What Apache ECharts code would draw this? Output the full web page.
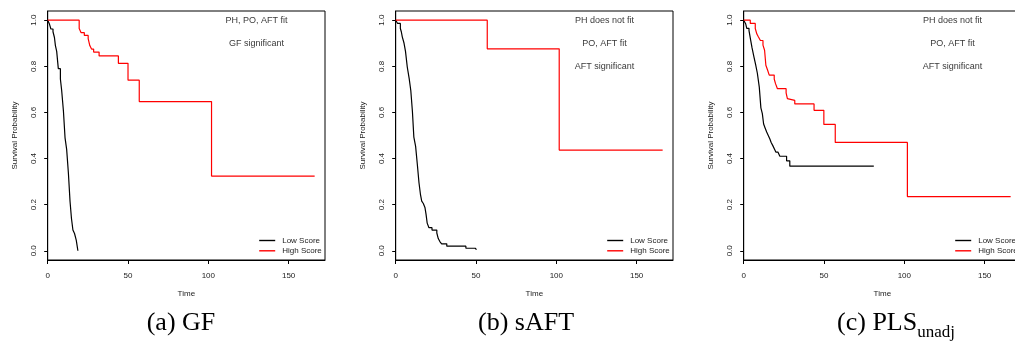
<!DOCTYPE html>
<html><head><meta charset="utf-8">
<script src="https://cdn.jsdelivr.net/npm/echarts@6/dist/echarts.min.js"></script>
<style>html,body{margin:0;padding:0;background:#fff;overflow:hidden}#c{width:1015px;height:357px}</style>
</head><body><div id="c"></div><script>
// ---- data ----
const xTicks = [0, 50, 100, 150];
const yTicks = [0, 0.2, 0.4, 0.6, 0.8, 1.0];
const seriesNames = ['Low Score', 'High Score'];

// (a) GF
const timeLowA = [0, 1.0, 2.0, 3.3, 4.2, 4.8, 5.6, 6.6, 7.9, 8.7, 9.8, 10.8, 11.8, 12.9, 13.9, 14.8, 15.7, 16.7, 17.8, 18.8];
const survLowA = [1, 0.985, 0.962, 0.95, 0.925, 0.89, 0.865, 0.79, 0.745, 0.695, 0.605, 0.49, 0.44, 0.335, 0.215, 0.14, 0.09, 0.075, 0.045, 0];
const timeHighA = [0, 19.6, 20.8, 22.8, 25.2, 26.2, 27.3, 28.6, 32.0, 44.0, 50.0, 57.0, 102.0, 166.2];
const survHighA = [1, 0.964, 0.946, 0.934, 0.92, 0.89, 0.875, 0.862, 0.845, 0.813, 0.74, 0.647, 0.324, 0.324];

// (b) sAFT
const timeLowB = [0, 1.2, 2.9, 3.5, 4.1, 5.2, 6.1, 7.2, 8.4, 9.4, 10.4, 11.3, 12.4, 13.5, 14.5, 15.4, 16.2, 17.2, 18.2, 18.9, 19.6, 20.7, 22.6, 25.6, 26.5, 27.5, 28.6, 31.8, 43.7, 49.5, 50.3];
const survLowB = [1, 0.986, 0.964, 0.95, 0.928, 0.9, 0.865, 0.797, 0.747, 0.695, 0.605, 0.493, 0.453, 0.372, 0.295, 0.245, 0.215, 0.205, 0.188, 0.158, 0.12, 0.1, 0.09, 0.077, 0.053, 0.04, 0.03, 0.02, 0.011, 0.005, 0.005];
const timeHighB = [0, 57.0, 101.8, 166.2];
const survHighB = [1, 0.876, 0.437, 0.437];

// (c) PLS unadj
const timeLowC = [0, 1.2, 1.9, 3.3, 4.3, 5.2, 6.4, 7.4, 8.5, 9.7, 10.7, 11.6, 12.4, 13.2, 14.3, 15.3, 16.3, 17.1, 18.2, 19.2, 20.0, 21.3, 22.5, 26.7, 28.7, 81.0];
const survLowC = [1, 0.985, 0.965, 0.955, 0.915, 0.88, 0.84, 0.808, 0.77, 0.71, 0.62, 0.595, 0.55, 0.535, 0.515, 0.5, 0.485, 0.47, 0.455, 0.44, 0.428, 0.42, 0.41, 0.39, 0.367, 0.367];
const timeHighC = [0, 4.1, 7.2, 8.2, 9.2, 10.4, 12.0, 13.0, 13.8, 14.8, 15.9, 19.0, 19.8, 21.0, 26.4, 27.2, 28.3, 31.8, 43.8, 49.9, 57.0, 101.9, 166.2];
const survHighC = [1, 0.986, 0.964, 0.94, 0.927, 0.912, 0.892, 0.87, 0.805, 0.785, 0.762, 0.745, 0.725, 0.703, 0.685, 0.66, 0.652, 0.637, 0.609, 0.548, 0.47, 0.235, 0.235];

// annotation texts (R text() at x=130, y = 1.0 / 0.9 / 0.8)
const annotA = ['PH, PO, AFT fit', 'GF significant'];
const annotB = ['PH does not fit', 'PO, AFT fit', 'AFT significant'];
const annotC = ['PH does not fit', 'PO, AFT fit', 'AFT significant'];
const annotX = 130;
const annotY = [1.0, 0.9, 0.8];
const captions = ['(a) GF', '(b) sAFT', '(c) PLS'];
const captionSub = ['', '', 'unadj'];

// ---- chart ----
const FONT = '"Liberation Sans", Arial, sans-serif';
const SERIF = '"Liberation Serif", "DejaVu Serif", serif';
const tMax = 166.0;
const xMax = tMax * 1.04;
const panels = [
  {low: [timeLowA, survLowA], high: [timeHighA, survHighA], ann: annotA},
  {low: [timeLowB, survLowB], high: [timeHighB, survHighB], ann: annotB},
  {low: [timeLowC, survLowC], high: [timeHighC, survHighC], ann: annotC}
];
const lefts = [47.7, 395.7, 743.7];
const captionCenters = [181, 526, 896];
const W = 277.3, TOP = 11, H = 249;
const zip = (a, b) => a.map((v, i) => [v, b[i]]);

const grid = [], xAxis = [], yAxis = [], series = [], legend = [], graphic = [];
panels.forEach((p, i) => {
  grid.push({left: lefts[i], top: TOP, width: W, height: H, show: true, borderColor: '#000', borderWidth: 1,
    backgroundColor: 'transparent', outerBoundsMode: 'none', containLabel: false});
  xAxis.push({
    gridIndex: i, type: 'value', min: 0, max: xMax,
    name: 'Time', nameLocation: 'middle', nameGap: 30,
    nameTextStyle: {fontSize: 8, color: '#222', fontFamily: FONT},
    axisLine: {show: true, onZero: false, lineStyle: {color: '#000', width: 1}},
    axisTick: {show: true, inside: false, length: 4, customValues: xTicks, lineStyle: {color: '#000'}},
    axisLabel: {customValues: xTicks, fontSize: 8, margin: 12, color: '#222', fontFamily: FONT},
    splitLine: {show: false}
  });
  yAxis.push({
    gridIndex: i, type: 'value', min: -0.04, max: 1.04,
    name: 'Survival Probability', nameLocation: 'middle', nameGap: 29, nameRotate: 90,
    nameTextStyle: {fontSize: 8, color: '#222', fontFamily: FONT},
    axisLine: {show: true, onZero: false, lineStyle: {color: '#000', width: 1}},
    axisTick: {show: true, inside: false, length: 3.5, customValues: yTicks, lineStyle: {color: '#000'}},
    axisLabel: {customValues: yTicks, fontSize: 8, margin: 10, rotate: 90, color: '#222', fontFamily: FONT,
      formatter: v => Number(v).toFixed(1)},
    splitLine: {show: false}
  });
  series.push({
    type: 'line', name: seriesNames[0], xAxisIndex: i, yAxisIndex: i,
    data: zip(p.low[0], p.low[1]), step: 'end', symbol: 'none',
    lineStyle: {color: '#000', width: 1.2}, itemStyle: {color: '#000'}, silent: true
  });
  series.push({
    type: 'line', name: seriesNames[1], xAxisIndex: i, yAxisIndex: i,
    data: zip(p.high[0], p.high[1]), step: 'end', symbol: 'none',
    lineStyle: {color: '#ff0000', width: 1.2}, itemStyle: {color: '#ff0000'}, silent: true
  });
  series.push({
    type: 'scatter', name: 'annot' + i, xAxisIndex: i, yAxisIndex: i,
    data: p.ann.map((t, k) => [annotX, annotY[k], t]), symbolSize: 0, silent: true,
    label: {show: true, position: 'inside', formatter: q => q.data[2], fontSize: 9, color: '#000', fontFamily: FONT}
  });
  legend.push({
    left: lefts[i] + 211.5, top: 236, orient: 'vertical', data: seriesNames, padding: 0,
    icon: 'rect', itemWidth: 16, itemHeight: 1.4, itemGap: 1.3, selectedMode: false,
    textStyle: {fontSize: 8, lineHeight: 9, color: '#222', fontFamily: FONT, padding: [0, 0, 0, 2]}
  });
  graphic.push({
    type: 'text', x: captionCenters[i], y: 323,
    style: {
      text: captionSub[i] ? '{m|' + captions[i] + '}{s|' + captionSub[i] + '}' : '{m|' + captions[i] + '}',
      textAlign: 'center', textVerticalAlign: 'middle', fill: '#000',
      rich: {
        m: {fontSize: 26, lineHeight: 26, fontFamily: SERIF, verticalAlign: 'top', fill: '#000'},
        s: {fontSize: 17, lineHeight: 17, fontFamily: SERIF, verticalAlign: 'top', padding: [14, 0, 0, 0], fill: '#000'}
      }
    }
  });
});

const chart = echarts.init(document.getElementById('c'), null, {renderer: 'canvas'});
chart.setOption({animation: false, grid, xAxis, yAxis, series, legend, graphic});
</script></body></html>
